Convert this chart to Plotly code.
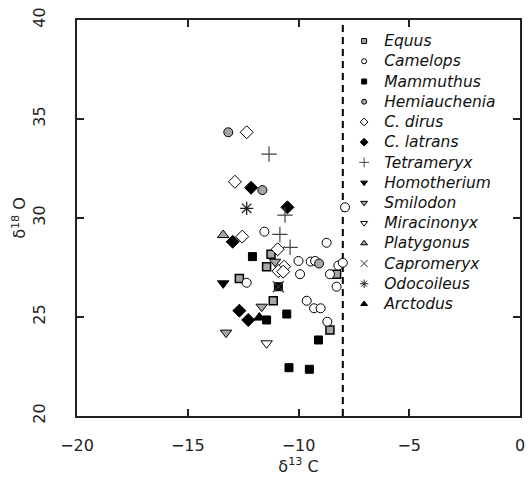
import plotly.graph_objects as go

species = ["Equus", "Camelops", "Mammuthus", "Hemiauchenia", "C. dirus", "C. latrans",
           "Tetrameryx", "Homotherium", "Smilodon", "Miracinonyx", "Platygonus",
           "Capromeryx", "Odocoileus", "Arctodus"]

equus_x = [-11.24, -11.44, -12.67, -8.28, -11.14, -8.58]
equus_y = [28.17, 27.54, 26.95, 27.16, 25.82, 24.34]

camelops_x = [-7.9, -11.54, -8.73, -10.0, -9.45, -9.25, -8.2, -8.0, -9.93, -8.58, -8.28,
              -12.34, -9.63, -9.3, -9.0, -8.7]
camelops_y = [30.54, 29.31, 28.75, 27.83, 27.8, 27.83, 27.6, 27.74, 27.16, 27.16, 26.53,
              26.73, 25.82, 25.44, 25.44, 24.76]

mammuthus_x = [-12.08, -10.91, -10.53, -11.44, -9.1, -10.43, -9.51]
mammuthus_y = [28.05, 26.53, 25.15, 24.85, 23.84, 22.44, 22.36]

hemiauchenia_x = [-13.17, -11.63, -9.07]
hemiauchenia_y = [34.33, 31.41, 27.7]

cdirus_x = [-12.34, -12.87, -12.54, -10.94, -10.65, -10.91, -10.69]
cdirus_y = [34.33, 31.83, 29.06, 28.42, 27.54, 27.32, 27.29]

clatrans_x = [-12.14, -10.5, -12.97, -12.67, -12.27]
clatrans_y = [31.53, 30.54, 28.8, 25.32, 24.85]

tetrameryx_x = [-11.33, -10.61, -10.84, -10.38]
tetrameryx_y = [33.23, 30.15, 29.17, 28.52]

homotherium_x = [-13.4]
homotherium_y = [26.7]

smilodon_x = [-11.06, -11.66, -13.27]
smilodon_y = [27.79, 25.52, 24.21]

miracinonyx_x = [-11.44]
miracinonyx_y = [23.67]

platygonus_x = [-13.4]
platygonus_y = [29.14]

capromeryx_x = [-10.91]
capromeryx_y = [26.53]

odocoileus_x = [-12.34]
odocoileus_y = [30.49]

arctodus_x = [-11.77]
arctodus_y = [24.97]

x_ticks = [-20, -15, -10, -5, 0]
x_tick_text = ["\u221220", "\u221215", "\u221210", "\u22125", "0"]
y_ticks = [20, 25, 30, 35, 40]
threshold = -8

GRAY = "#a6a6a6"
styles = {
    "Equus": dict(symbol="square", color=GRAY, line=dict(color="black", width=1.5), size=8),
    "Camelops": dict(symbol="circle", color="white", line=dict(color="black", width=1), size=9),
    "Mammuthus": dict(symbol="square", color="black", line=dict(color="black", width=1), size=8),
    "Hemiauchenia": dict(symbol="circle", color=GRAY, line=dict(color="black", width=1), size=9),
    "C. dirus": dict(symbol="diamond", color="white", line=dict(color="black", width=1), size=10),
    "C. latrans": dict(symbol="diamond", color="black", line=dict(color="black", width=1), size=10),
    "Tetrameryx": dict(symbol="cross-thin", color="#444444", line=dict(color="#444444", width=1.2), size=11),
    "Homotherium": dict(symbol="triangle-down", color="black", line=dict(color="black", width=1), size=10),
    "Smilodon": dict(symbol="triangle-down", color=GRAY, line=dict(color="black", width=1), size=10),
    "Miracinonyx": dict(symbol="triangle-down", color="white", line=dict(color="black", width=1), size=10),
    "Platygonus": dict(symbol="triangle-up", color=GRAY, line=dict(color="black", width=1), size=10),
    "Capromeryx": dict(symbol="x-thin", color="#333333", line=dict(color="#333333", width=1.2), size=11),
    "Odocoileus": dict(symbol="asterisk", color="#222222", line=dict(color="#222222", width=1.3), size=11),
    "Arctodus": dict(symbol="triangle-up", color="black", line=dict(color="black", width=1), size=10),
}

data = {
    "Equus": (equus_x, equus_y), "Camelops": (camelops_x, camelops_y),
    "Mammuthus": (mammuthus_x, mammuthus_y), "Hemiauchenia": (hemiauchenia_x, hemiauchenia_y),
    "C. dirus": (cdirus_x, cdirus_y), "C. latrans": (clatrans_x, clatrans_y),
    "Tetrameryx": (tetrameryx_x, tetrameryx_y), "Homotherium": (homotherium_x, homotherium_y),
    "Smilodon": (smilodon_x, smilodon_y), "Miracinonyx": (miracinonyx_x, miracinonyx_y),
    "Platygonus": (platygonus_x, platygonus_y), "Capromeryx": (capromeryx_x, capromeryx_y),
    "Odocoileus": (odocoileus_x, odocoileus_y), "Arctodus": (arctodus_x, arctodus_y),
}

FONT = "DejaVu Sans, Liberation Sans, Arial"
TXT = "#222222"

fig = go.Figure()
fig.add_shape(type="line", x0=threshold, x1=threshold, y0=20, y1=40, xref="x", yref="y",
              line=dict(color="black", width=2, dash="7px,5px"), layer="below")

for name in species:
    xs, ys = data[name]
    st = styles[name]
    fig.add_trace(go.Scatter(x=xs, y=ys, mode="markers", name=name, showlegend=False,
                             marker=dict(symbol=st["symbol"], size=st["size"], color=st["color"],
                                         line=st["line"])))

for name in species:
    st = styles[name]
    fig.add_trace(go.Scatter(x=[None], y=[None], mode="markers",
                             name='<span style="font-size:15.5px">' + name + '</span>',
                             marker=dict(symbol=st["symbol"], size=max(st["size"] - 4, 5),
                                         color=st["color"],
                                         line=dict(color=st["line"]["color"], width=1))))

axis_common = dict(showline=True, linecolor="#222222", linewidth=1.5, mirror="ticks",
                   ticks="inside", ticklen=7, tickwidth=1.5, tickcolor="#222222",
                   showgrid=False, zeroline=False,
                   tickfont=dict(family=FONT, size=16, color=TXT))

fig.update_xaxes(range=[-20, 0], tickvals=x_ticks, ticktext=x_tick_text,
                 ticklabelstandoff=14,
                 title=dict(text="\u03b4<sup>13</sup> C", standoff=2,
                            font=dict(family=FONT, size=16, color=TXT)),
                 **axis_common)
fig.update_yaxes(range=[20, 40], tickvals=y_ticks, tickangle=-90,
                 ticklabelstandoff=24,
                 title=dict(text="\u03b4<sup>18</sup> O", standoff=0,
                            font=dict(family=FONT, size=16, color=TXT)),
                 **axis_common)

fig.update_layout(
    width=531, height=478,
    margin=dict(l=77, r=11, t=20, b=62, autoexpand=False),
    plot_bgcolor="white", paper_bgcolor="white",
    legend=dict(x=0.603, y=0.985, xanchor="left", yanchor="top", bgcolor="rgba(0,0,0,0)",
                font=dict(family=FONT, size=13.25, color="#111111", style="italic"),
                tracegroupgap=0, itemwidth=30),
    font=dict(family=FONT),
)

fig.write_html("out.html")
